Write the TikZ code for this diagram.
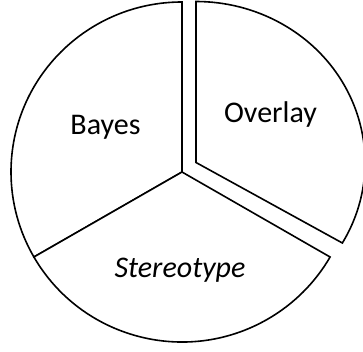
\documentclass[tikz,border=0pt]{standalone}
\usepackage{fontspec}
\setmainfont{Carlito}
\begin{document}
\begin{tikzpicture}[x=1pt,y=1pt,
  slice/.style={draw=black,line width=1.6pt,line join=miter,fill=white},
  lbl/.style={anchor=base,inner sep=0pt,font=\fontsize{30}{36}\selectfont}]
\useasboundingbox (0,0) rectangle (363,351);
\coordinate (C) at (182,179);
\coordinate (O) at (196,188.5);
% Bayes
\draw[slice] (C) -- ++(90:171 and 170) arc[start angle=90,end angle=210,x radius=171,y radius=170] -- cycle;
% Stereotype
\draw[slice] (C) -- ++(210:171 and 170) arc[start angle=210,end angle=330,x radius=171,y radius=170] -- cycle;
% Overlay (exploded)
\draw[slice] (O) -- ++(-30:169 and 161) arc[start angle=-30,end angle=90,x radius=169,y radius=161] -- cycle;
\node[lbl] (bayes) at (105.5,216.7) {Bayes};
\node[lbl] (overlay) at (270.5,228) {Overlay};
\node[lbl] (stereo) at (180,74) {\itshape Stereotype};
\end{tikzpicture}
\end{document}
